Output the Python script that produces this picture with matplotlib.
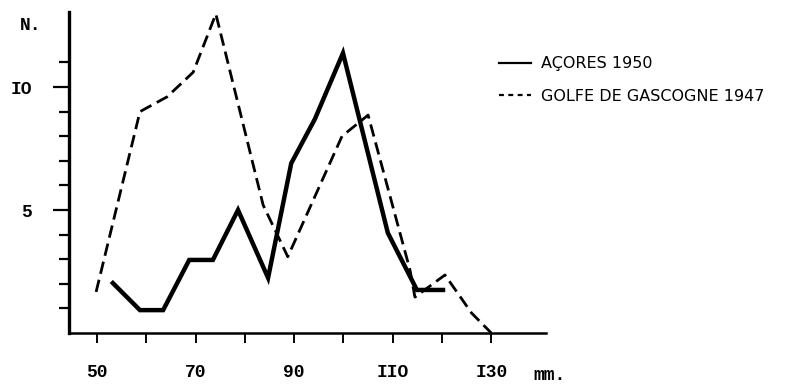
import numpy as np
import matplotlib
matplotlib.use('agg')
import matplotlib.pyplot as plt
from matplotlib.lines import Line2D

# Açores 1950 (solid) -- length (mm) vs number
acores_x = [53.2, 58.7, 63.4, 68.7, 73.5, 78.6, 84.7, 89.4, 94.2, 99.9, 109.0, 114.9, 120.2]
acores_n = [2.03, 0.93, 0.93, 2.97, 2.97, 5.0, 2.24, 6.9, 8.7, 11.38, 4.07, 1.75, 1.75]

# Golfe de Gascogne 1947 (dashed)
golfe_x = [49.8, 58.7, 64.2, 69.5, 74.1, 83.7, 88.7, 99.7, 105.0, 113.5, 114.5, 120.6, 126.0, 130.0]
golfe_n = [1.67, 9.0, 9.6, 10.6, 12.97, 5.2, 3.1, 8.0, 8.86, 2.56, 1.46, 2.36, 0.81, 0.0]

xticks_major = [50, 70, 90, 110, 130]
xtick_labels = ['50', '70', '90', 'IIO', 'I30']
xticks_minor = [60, 80, 100, 120]
yticks_major = [5, 10]
ytick_labels = ['5', 'IO']
yticks_minor = [1, 2, 3, 4, 6, 7, 8, 9, 11]

mono = 'Liberation Mono'

fig = plt.figure(figsize=(7.99, 3.87), dpi=100)
ax = fig.add_axes([69 / 799, 1 - 333 / 387, (546 - 69) / 799, (333 - 12) / 387])

ax.plot(acores_x, acores_n, color='black', lw=3.2, solid_joinstyle='miter')
ax.plot(golfe_x, golfe_n, color='black', lw=2.0, dashes=(4.5, 2.2))

ax.set_xlim(44.3, 141.1)
ax.set_ylim(0, 13.05)

for s in ['top', 'right']:
    ax.spines[s].set_visible(False)
ax.spines['left'].set_linewidth(2.4)
ax.spines['bottom'].set_linewidth(1.8)

ax.set_xticks(xticks_major)
ax.set_xticklabels(xtick_labels, family=mono, fontweight='bold', fontsize=13)
ax.set_xticks(xticks_minor, minor=True)
ax.set_yticks(yticks_major)
ax.set_yticklabels(ytick_labels, family=mono, fontweight='bold', fontsize=13)
ax.set_yticks(yticks_minor, minor=True)

ax.tick_params(axis='x', which='both', direction='out', length=7, width=1.4, pad=15)
ax.tick_params(axis='y', which='major', direction='out', length=11.5, width=1.6, pad=15)
ax.tick_params(axis='y', which='minor', direction='out', length=7, width=1.6)

# axis captions
fig.text(31 / 799, 1 - 25 / 387, 'N.', family=mono, fontweight='bold', fontsize=13,
         ha='center', va='center')
fig.text(550 / 799, 1 - 376 / 387, 'mm.', family=mono, fontweight='bold', fontsize=13,
         ha='center', va='center')

handles = [Line2D([], [], color='black', lw=1.6),
           Line2D([], [], color='black', lw=1.6, dashes=(2.2, 2.0))]
labels = ['AÇORES 1950', 'GOLFE DE GASCOGNE 1947']
leg = ax.legend(handles, labels, loc='center left', bbox_to_anchor=(485 / 799, 1 - 80 / 387),
                bbox_transform=fig.transFigure, frameon=False, handlelength=2.0,
                handletextpad=0.6, labelspacing=1.1,
                prop={'family': 'DejaVu Sans', 'size': 11.5})

plt.savefig('out.png', dpi=100)
